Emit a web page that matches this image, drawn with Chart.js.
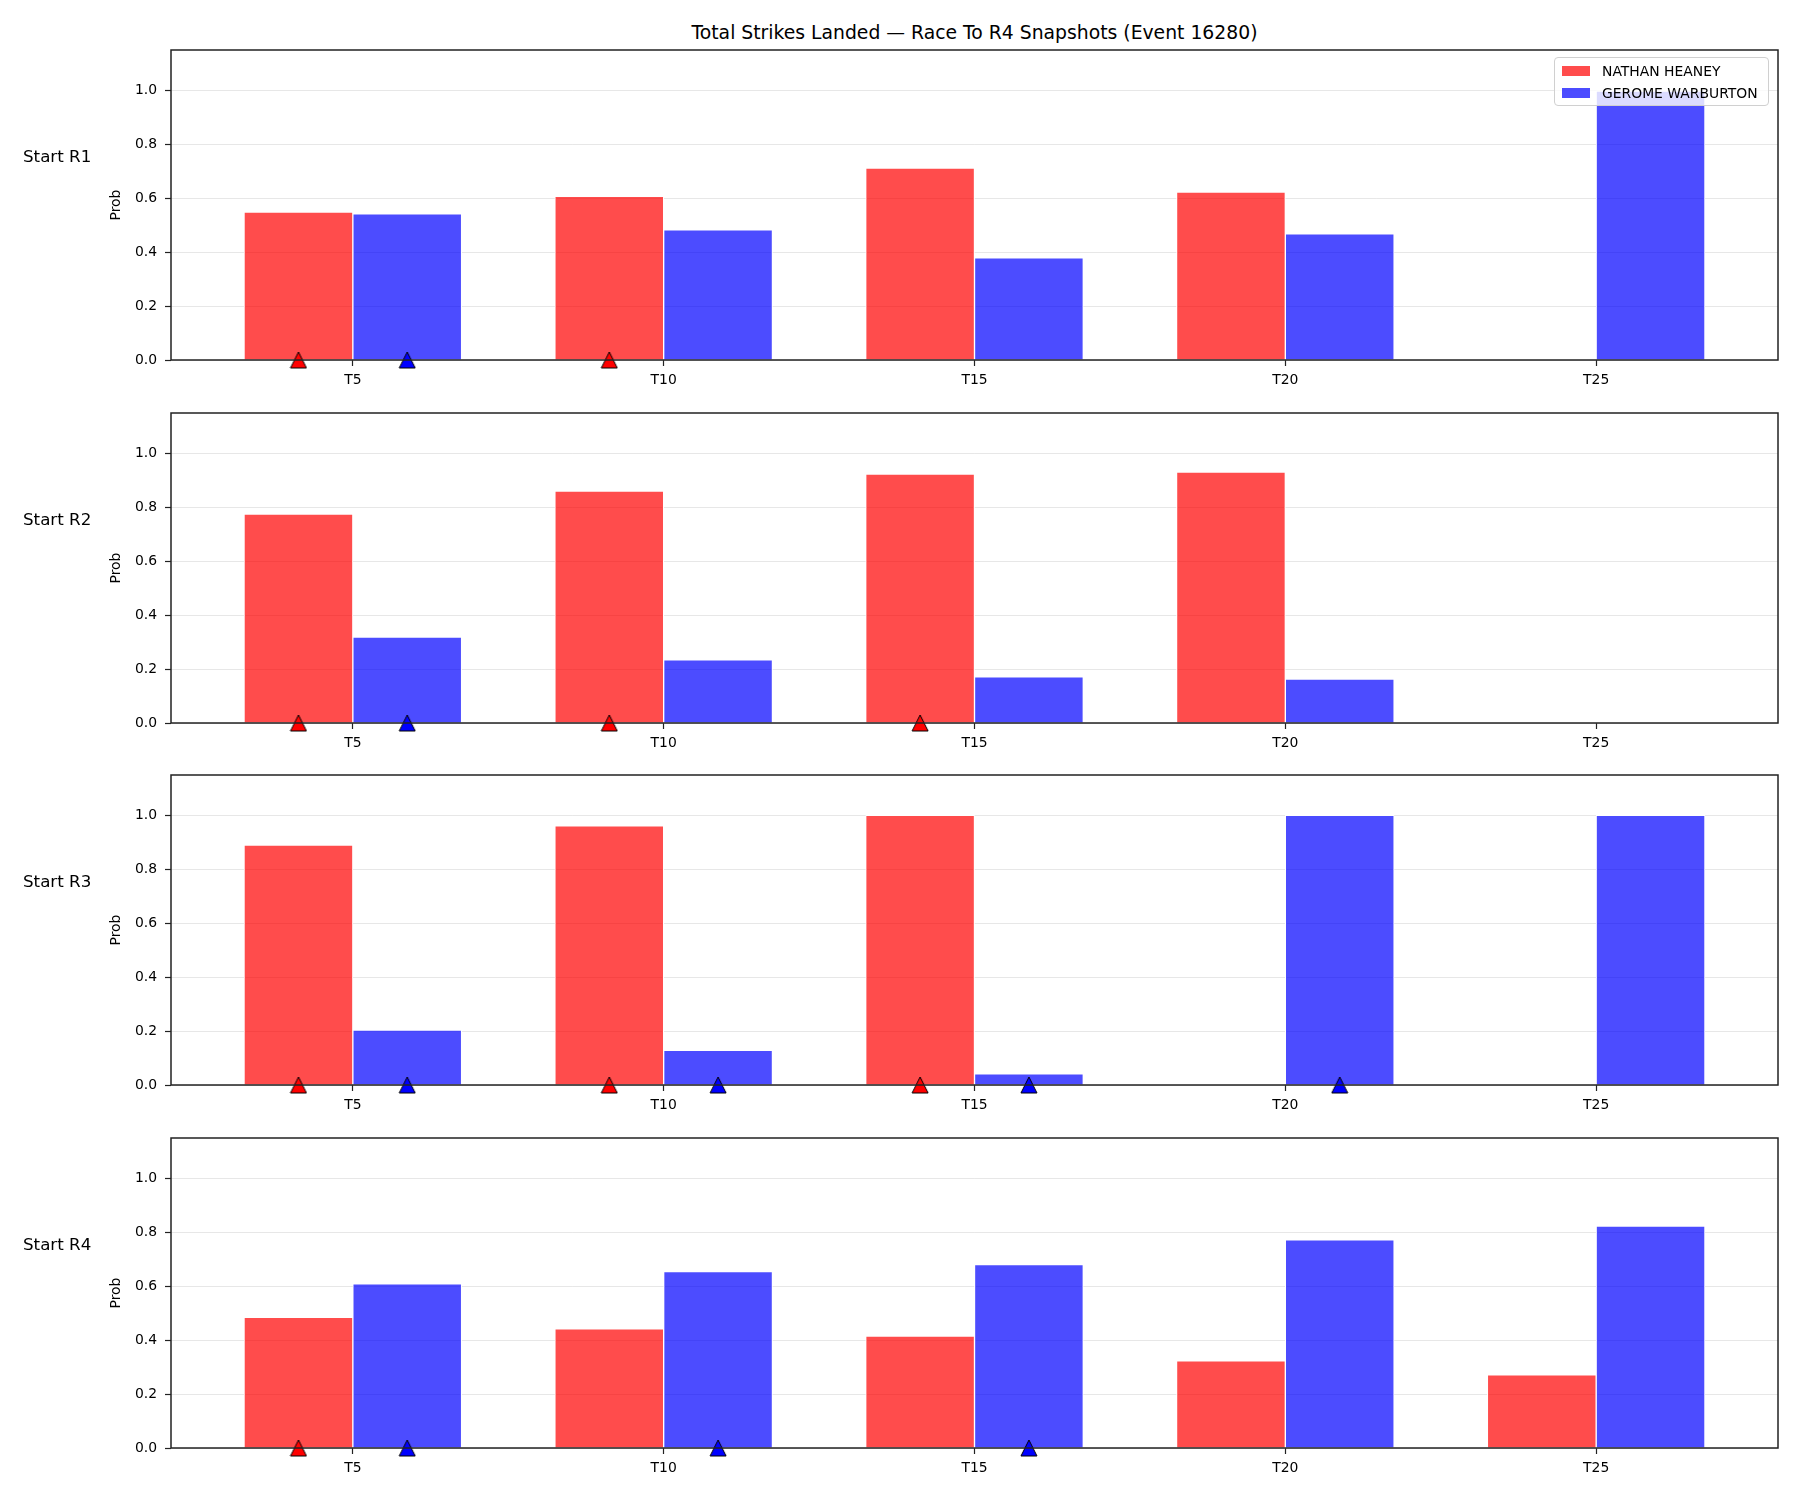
<!DOCTYPE html>
<html>
<head>
<meta charset="utf-8">
<title>Total Strikes Landed — Race To R4 Snapshots</title>
<script src="https://cdn.jsdelivr.net/npm/chart.js@4.4.1/dist/chart.umd.min.js"></script>
<style>
  body { margin: 0; background: #fff; font-family: 'DejaVu Sans', sans-serif; }
  #wrap { position: relative; width: 1800px; height: 1500px; overflow: hidden; }
  canvas { position: absolute; left: 0; }
  .title { position: absolute; left: 171px; width: 1607px; top: 22px; text-align: center;
           font-size: 18.8px; line-height: 22px; color: #000; }
  .rowLabel { position: absolute; left: 23px; font-size: 16.7px; line-height: 20px; color: #000; white-space: nowrap; }
  .legend { position: absolute; left: 1554px; top: 57px; width: 213px; height: 47px;
            border: 1px solid #d0d0d0; border-radius: 4px; background: rgba(255,255,255,0.8); z-index: 5; }
  .legend .item { position: absolute; left: 7px; height: 20px; font-size: 13.9px; line-height: 20px; white-space: nowrap; }
  .legend .swatch { position: absolute; left: 0; top: 5px; width: 28px; height: 10px; }
  .legend .name { position: absolute; left: 40px; top: 0; }
</style>
</head>
<body>
<div id="wrap">
  <div class="title">Total Strikes Landed — Race To R4 Snapshots (Event 16280)</div>
</div>
<script>
// snapshot categories and panel rows
const CATEGORIES = ['T5', 'T10', 'T15', 'T20', 'T25'];
const PANELS = ['Start R1', 'Start R2', 'Start R3', 'Start R4'];
const SERIES = ['NATHAN HEANEY', 'GEROME WARBURTON'];

// probabilities per panel (null = no bar)
const HEANEY = [
    [0.549, 0.607, 0.712, 0.623, null],
    [0.775, 0.860, 0.923, 0.931, null],
    [0.890, 0.961, 1.000, null, null],
    [0.485, 0.442, 0.415, 0.323, 0.271],
];
const WARBURTON = [
    [0.542, 0.483, 0.379, 0.468, 0.998],
    [0.319, 0.234, 0.171, 0.163, null],
    [0.204, 0.129, 0.041, 1.000, 1.000],
    [0.609, 0.654, 0.680, 0.772, 0.823],
];

// triangle markers on the baseline
const HEANEY_MARKS = [['T5', 'T10'], ['T5', 'T10', 'T15'], ['T5', 'T10', 'T15'], ['T5']];
const WARBURTON_MARKS = [['T5'], ['T5'], ['T5', 'T10', 'T15', 'T20'], ['T5', 'T10', 'T15']];

const Y_TICKS = [0, 0.2, 0.4, 0.6, 0.8, 1.0];
const Y_MAX = 1.15;

const BAR_W = 0.35;
const BAR_COLORS = ['rgba(255,0,0,0.7)', 'rgba(0,0,255,0.7)'];
const MARK_COLORS = ['#ff0000', '#0000ff'];
const PANEL_PITCH = 362.6;

Chart.defaults.font.family = "'DejaVu Sans', sans-serif";
Chart.defaults.font.size = 13.9;
Chart.defaults.color = '#000';

function triangleSprite(fill) {
    const c = document.createElement('canvas');
    c.width = 18;
    c.height = 18;
    const g = c.getContext('2d');
    g.beginPath();
    g.moveTo(9, 1);
    g.lineTo(17, 17);
    g.lineTo(1, 17);
    g.closePath();
    g.fillStyle = fill;
    g.fill();
    g.lineWidth = 1;
    g.strokeStyle = '#000';
    g.stroke();
    return c;
}
const SPRITES = MARK_COLORS.map(triangleSprite);

const framePlugin = {
    id: 'frame',
    afterDraw(chart) {
        const { ctx, chartArea: a } = chart;
        ctx.save();
        ctx.strokeStyle = '#222';
        ctx.lineWidth = 1.5;
        ctx.strokeRect(a.left, a.top, a.right - a.left, a.bottom - a.top);
        ctx.restore();
    },
};

const n = CATEGORIES.length;
const span = (n - 1) + 2 * BAR_W;
const X_MIN = -BAR_W - 0.05 * span;
const X_MAX = (n - 1) + BAR_W + 0.05 * span;

function barData(values, side) {
    return values.map((v, i) => ({ x: i + side * BAR_W / 2, y: v }));
}
function markData(labels, side) {
    return labels.map((l) => ({ x: CATEGORIES.indexOf(l) + side * BAR_W / 2, y: 0 }));
}

const wrap = document.getElementById('wrap');

PANELS.forEach((name, p) => {
    const top = Math.round(p * PANEL_PITCH);

    const canvas = document.createElement('canvas');
    canvas.width = 1800;
    canvas.height = 400;
    canvas.style.top = top + 'px';
    wrap.appendChild(canvas);

    const label = document.createElement('div');
    label.className = 'rowLabel';
    label.textContent = name;
    label.style.top = (top + 146) + 'px';
    wrap.appendChild(label);

    new Chart(canvas.getContext('2d'), {
        type: 'bar',
        data: {
            datasets: [
                {
                    label: SERIES[0],
                    data: barData(HEANEY[p], -1),
                    backgroundColor: BAR_COLORS[0],
                    borderColor: '#fff',
                    borderWidth: 1,
                    grouped: false,
                    categoryPercentage: 1,
                    barPercentage: 1,
                    order: 1,
                },
                {
                    label: SERIES[1],
                    data: barData(WARBURTON[p], 1),
                    backgroundColor: BAR_COLORS[1],
                    borderColor: '#fff',
                    borderWidth: 1,
                    grouped: false,
                    categoryPercentage: 1,
                    barPercentage: 1,
                    order: 1,
                },
                {
                    type: 'scatter',
                    data: markData(HEANEY_MARKS[p], -1),
                    pointStyle: SPRITES[0],
                    radius: 8,
                    clip: false,
                    order: 0,
                },
                {
                    type: 'scatter',
                    data: markData(WARBURTON_MARKS[p], 1),
                    pointStyle: SPRITES[1],
                    radius: 8,
                    clip: false,
                    order: 0,
                },
            ],
        },
        options: {
            responsive: false,
            animation: false,
            devicePixelRatio: 1,
            layout: { padding: { left: 100, right: 22, top: 50, bottom: 0 } },
            plugins: {
                legend: { display: false },
                tooltip: { enabled: false },
                title: { display: false },
            },
            scales: {
                x: {
                    type: 'linear',
                    min: X_MIN,
                    max: X_MAX,
                    offset: false,
                    border: { display: false },
                    grid: {
                        offset: false,
                        drawOnChartArea: false,
                        drawTicks: true,
                        tickLength: 6,
                        tickColor: '#222',
                        tickWidth: 1.2,
                    },
                    ticks: {
                        padding: 6,
                        maxRotation: 0,
                        callback: (v) => CATEGORIES[v],
                    },
                    afterBuildTicks: (scale) => {
                        scale.ticks = CATEGORIES.map((_, i) => ({ value: i }));
                    },
                    afterFit: (scale) => { scale.height = 40; },
                },
                y: {
                    min: 0,
                    max: Y_MAX,
                    z: 1,
                    border: { display: false },
                    grid: {
                        color: 'rgba(176,176,176,0.3)',
                        lineWidth: 1,
                        tickLength: 6,
                        tickColor: '#222',
                        tickWidth: 1.2,
                    },
                    ticks: {
                        padding: 8,
                        callback: (v) => v.toFixed(1),
                    },
                    afterBuildTicks: (scale) => {
                        scale.ticks = Y_TICKS.map((v) => ({ value: v }));
                    },
                    title: {
                        display: true,
                        text: 'Prob',
                        padding: { top: 8, bottom: 0 },
                    },
                    afterFit: (scale) => { scale.width = 71; },
                },
            },
        },
        plugins: [framePlugin],
    });
});

// legend inside the first panel
const legend = document.createElement('div');
legend.className = 'legend';
SERIES.forEach((s, i) => {
    const item = document.createElement('div');
    item.className = 'item';
    item.style.top = (3 + i * 21.7) + 'px';
    const sw = document.createElement('span');
    sw.className = 'swatch';
    sw.style.background = BAR_COLORS[i];
    const nm = document.createElement('span');
    nm.className = 'name';
    nm.textContent = s;
    item.appendChild(sw);
    item.appendChild(nm);
    legend.appendChild(item);
});
wrap.appendChild(legend);
</script>
</body>
</html>
